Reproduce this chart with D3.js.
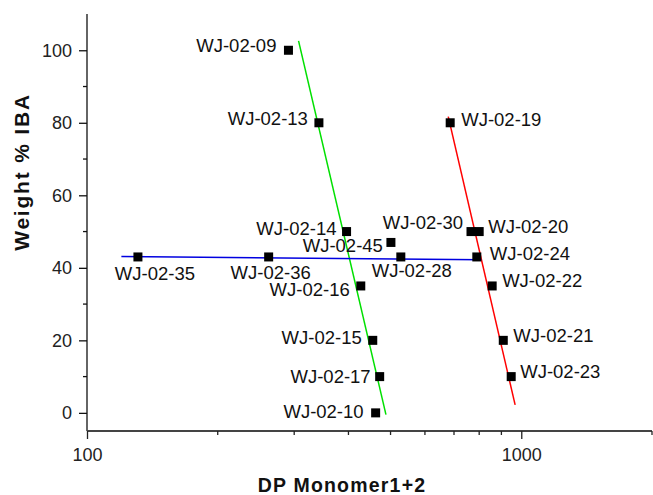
<!DOCTYPE html>
<html>
<head>
<meta charset="utf-8">
<script src="https://cdn.jsdelivr.net/npm/d3@7"></script>
<style>
  body { margin: 0; background: #fff; }
  svg { display: block; font-family: Arial, "Liberation Sans", sans-serif; }
</style>
</head>
<body>
<svg id="chart" width="653" height="495"></svg>
<script>
// sample names, DP values (x) and weight % IBA (y)
const samples = ['WJ-02-09', 'WJ-02-13', 'WJ-02-14', 'WJ-02-45', 'WJ-02-28', 'WJ-02-16',
                 'WJ-02-15', 'WJ-02-17', 'WJ-02-10', 'WJ-02-35', 'WJ-02-36', 'WJ-02-19',
                 'WJ-02-30', 'WJ-02-20', 'WJ-02-24', 'WJ-02-22', 'WJ-02-21', 'WJ-02-23'];
const dpValues = [291, 342, 396, 501, 528, 427, 455, 472, 462, 131, 262, 686, 766, 800, 790, 857, 909, 948];
const ibaValues = [100, 80, 50, 47, 43, 35, 20, 10, 0, 43, 43, 80, 50, 50, 43, 35, 20, 10];

// fitted trend lines: [x1, y1, x2, y2]
const fitGreen = [307, 102.6, 488, -0.5];
const fitRed = [679, 81.7, 968, 2.2];
const fitBlue = [120, 43.1, 809, 42.2];

const xTickLabels = [100, 1000];
const yTickLabels = [0, 20, 40, 60, 80, 100];

// where each label sits relative to its marker
const labelPos = {
  'WJ-02-09': [-12, 2, 'end'],  'WJ-02-13': [-11, 2, 'end'],  'WJ-02-14': [-10, 3, 'end'],
  'WJ-02-45': [-8, 10, 'end'],  'WJ-02-28': [11, 20, 'middle'], 'WJ-02-16': [-11, 10, 'end'],
  'WJ-02-15': [-11, 4, 'end'],  'WJ-02-17': [-9, 6, 'end'],  'WJ-02-10': [-12, 5, 'end'],
  'WJ-02-35': [17, 23, 'middle'], 'WJ-02-36': [2, 22, 'middle'], 'WJ-02-19': [11, 3, 'start'],
  'WJ-02-30': [-8, -3, 'end'],  'WJ-02-20': [9, 1, 'start'], 'WJ-02-24': [13, 3, 'start'],
  'WJ-02-22': [10, 1, 'start'], 'WJ-02-21': [10, 2, 'start'], 'WJ-02-23': [9, 1, 'start']
};

const svg = d3.select('#chart');
const padLeft = 87, padRight = 652, padTop = 14, padBottom = 431;

const x = d3.scaleLog().domain([100, 2000]).range([padLeft, padRight]);
const y = d3.scaleLinear().domain([-5, 110]).range([padBottom, padTop]);

// y axis
const yAxis = svg.append('g').attr('transform', `translate(${padLeft},0)`);
yAxis.call(d3.axisLeft(y).tickValues(yTickLabels).tickSize(8).tickPadding(7));
yAxis.select('.domain').attr('d', `M0,${padTop}V${padBottom}`).attr('stroke', '#111').attr('stroke-width', 1.3);
yAxis.selectAll('.tick line').attr('stroke', '#111').attr('stroke-width', 1.3);
yAxis.selectAll('text').attr('font-size', 18).attr('fill', '#222');
yAxis.selectAll('.minor').data(d3.range(10, 110, 20)).enter().append('line')
  .attr('x1', -4).attr('x2', 0)
  .attr('y1', d => y(d)).attr('y2', d => y(d))
  .attr('stroke', '#111').attr('stroke-width', 1.3);

// x axis
const xAxis = svg.append('g').attr('transform', `translate(0,${padBottom})`);
xAxis.call(d3.axisBottom(x).tickValues(xTickLabels).tickFormat(d3.format('d')).tickSize(8).tickPadding(9));
xAxis.select('.domain').attr('d', `M${padLeft},0H${padRight}`).attr('stroke', '#444').attr('stroke-width', 2);
xAxis.selectAll('.tick line').attr('stroke', '#222').attr('stroke-width', 1.3);
xAxis.selectAll('text').attr('font-size', 18).attr('fill', '#222');
const minorX = [200, 300, 400, 500, 600, 700, 800, 900, 2000];
xAxis.selectAll('.minor').data(minorX).enter().append('line')
  .attr('x1', d => x(d)).attr('x2', d => x(d))
  .attr('y1', 0).attr('y2', 4)
  .attr('stroke', '#222').attr('stroke-width', 1.3);

// axis titles
svg.append('text')
  .attr('x', 342).attr('y', 492)
  .attr('text-anchor', 'middle')
  .attr('font-size', 19.5).attr('font-weight', 'bold').attr('fill', '#111')
  .attr('letter-spacing', 1.2)
  .text('DP Monomer1+2');
svg.append('text')
  .attr('transform', `translate(29,172) rotate(-90)`)
  .attr('text-anchor', 'middle')
  .attr('font-size', 21).attr('font-weight', 'bold').attr('fill', '#111')
  .attr('letter-spacing', 1.8)
  .text('Weight % IBA');

// trend lines
const fits = [[fitGreen, '#00e000'], [fitRed, '#ff0000'], [fitBlue, '#0000e0']];
svg.selectAll('.fit').data(fits).enter().append('line')
  .attr('x1', d => x(d[0][0])).attr('y1', d => y(d[0][1]))
  .attr('x2', d => x(d[0][2])).attr('y2', d => y(d[0][3]))
  .attr('stroke', d => d[1]).attr('stroke-width', 1.5);

// markers and labels
const points = samples.map((s, i) => ({ name: s, dp: dpValues[i], iba: ibaValues[i] }));
svg.selectAll('.pt').data(points).enter().append('rect')
  .attr('x', d => x(d.dp) - 4.5).attr('y', d => y(d.iba) - 4.5)
  .attr('width', 9).attr('height', 9).attr('fill', '#000');

svg.selectAll('.lbl').data(points).enter().append('text')
  .attr('x', d => x(d.dp) + labelPos[d.name][0])
  .attr('y', d => y(d.iba) + labelPos[d.name][1])
  .attr('text-anchor', d => labelPos[d.name][2])
  .attr('font-size', 18.5).attr('fill', '#111')
  .text(d => d.name);
</script>
</body>
</html>
